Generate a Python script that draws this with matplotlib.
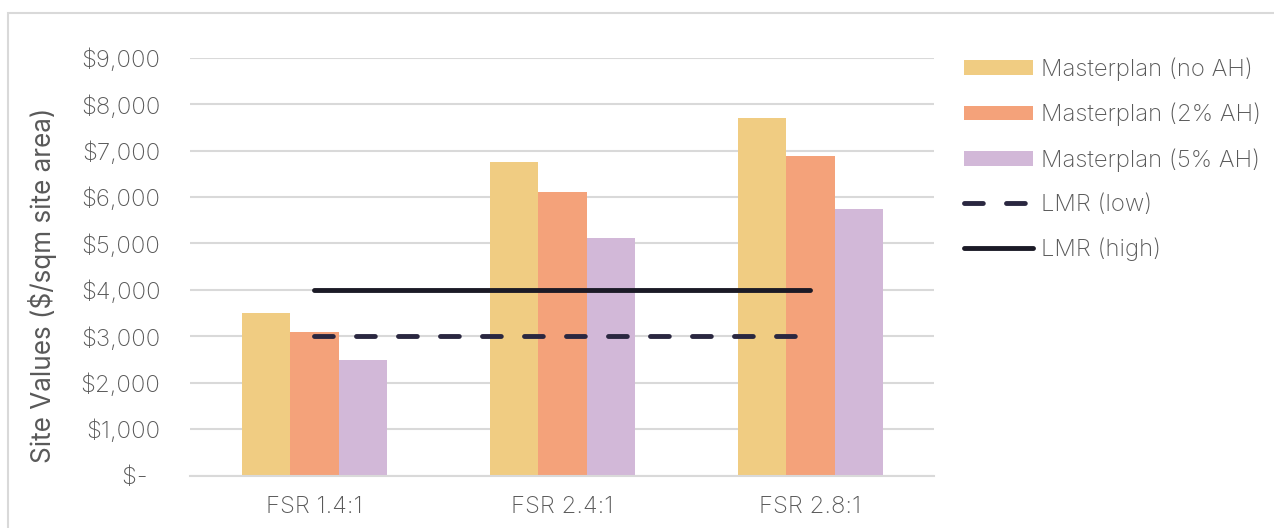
import numpy as np
import matplotlib.pyplot as plt
import matplotlib.patches as patches

# --- Data ---
categories = ['FSR 1.4:1', 'FSR 2.4:1', 'FSR 2.8:1']
no_ah = [3500, 6760, 7700]
ah_2pct = [3100, 6100, 6890]
ah_5pct = [2500, 5120, 5740]
lmr_low = [3000, 3000, 3000]
lmr_high = [4000, 4000, 4000]
y_ticks = [0, 1000, 2000, 3000, 4000, 5000, 6000, 7000, 8000, 9000]
y_tick_labels = ['$-  ', '$1,000', '$2,000', '$3,000', '$4,000',
                 '$5,000', '$6,000', '$7,000', '$8,000', '$9,000']

# --- Style ---
plt.rcParams['font.family'] = ['Inter', 'DejaVu Sans']
plt.rcParams['font.weight'] = 'light'
text_col = '#595959'
grid_col = '#D9D9D9'
c_no = '#F0CC82'
c_2 = '#F4A27A'
c_5 = '#D2B8D8'
c_low = '#2A2740'
c_high = '#1B1A26'
fs = 17.2

fig = plt.figure(figsize=(12.74, 5.28), dpi=100)
ax = fig.add_axes([0.1495, 0.0994, 0.584, 0.791])

# outer chart border
fig.patches.append(patches.Rectangle((8/1274, -0.1), 1.2, 1 - 13/528 + 0.1,
                                     transform=fig.transFigure, fill=False,
                                     edgecolor='#D9D9D9', linewidth=1.5))

x = np.arange(len(categories))
w = 0.195
ax.bar(x - w, no_ah, w, color=c_no, label='Masterplan (no AH)', zorder=2)
ax.bar(x, ah_2pct, w, color=c_2, label='Masterplan (2% AH)', zorder=2)
ax.bar(x + w, ah_5pct, w, color=c_5, label='Masterplan (5% AH)', zorder=2)

ax.plot(x, lmr_low, color=c_low, linewidth=3.5, linestyle=(0, (3.87, 4.77)),
        dash_capstyle='round', solid_capstyle='round', label='LMR (low)', zorder=3)
ax.plot(x, lmr_high, color=c_high, linewidth=3.5, solid_capstyle='round',
        label='LMR (high)', zorder=3)

ax.set_xlim(-0.5, 2.5)
ax.set_ylim(0, 9000)
ax.set_xticks(x)
ax.set_xticklabels(categories, fontsize=fs, color=text_col)
ax.set_yticks(y_ticks)
ax.set_yticklabels(y_tick_labels, fontsize=fs, color=text_col)
ax.tick_params(axis='both', length=0)
ax.tick_params(axis='y', pad=21.5)
ax.tick_params(axis='x', pad=15)
ax.grid(axis='y', color=grid_col, linewidth=1.5, zorder=0)
ax.set_axisbelow(True)
for s in ['top', 'right', 'left']:
    ax.spines[s].set_visible(False)
ax.spines['bottom'].set_color(grid_col)
ax.spines['bottom'].set_linewidth(1.5)

ax.set_ylabel('Site Values ($/sqm site area)', fontsize=18.8, color=text_col)
ax.yaxis.set_label_coords(-0.18, 0.455)

handles, labels = ax.get_legend_handles_labels()
order = [2, 3, 4, 0, 1]
leg = fig.legend([handles[i] for i in order], [labels[i] for i in order],
                 loc='upper left', bbox_to_anchor=(0.740, 0.932), frameon=False,
                 fontsize=fs, handlelength=2.88, handleheight=0.55,
                 handletextpad=0.35, labelspacing=0.92, labelcolor=text_col)

fig.savefig('out.png', dpi=100)
